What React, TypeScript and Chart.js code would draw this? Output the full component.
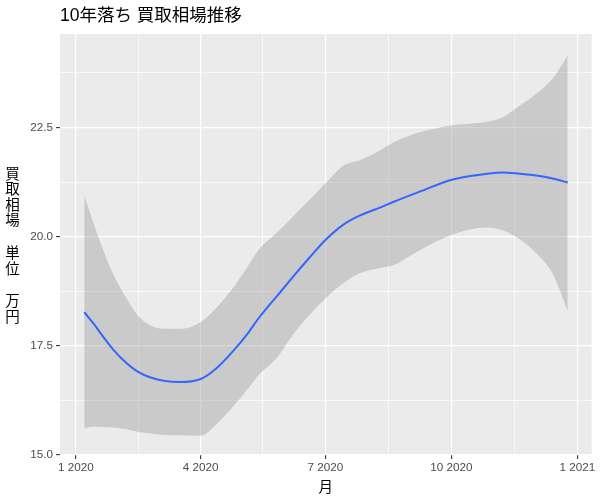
import React, { useEffect, useRef } from "react";
import { Chart, registerables } from "chart.js";

Chart.register(...registerables);

// Days since 1 Jan 2020
const DAYS = [6, 13, 20, 27, 37, 45, 54, 64, 76, 91, 103, 115, 125, 134, 147, 159, 171, 183, 195, 207, 220, 232, 251, 275, 300, 312, 324, 336, 348, 359];
const FIT = [18.27, 18.0, 17.7, 17.42, 17.1, 16.91, 16.78, 16.7, 16.67, 16.74, 17.0, 17.39, 17.77, 18.16, 18.65, 19.1, 19.54, 19.95, 20.27, 20.48, 20.64, 20.8, 21.03, 21.31, 21.44, 21.47, 21.44, 21.4, 21.33, 21.24];
const UPPER = [20.94, 20.29, 19.68, 19.15, 18.58, 18.2, 17.97, 17.89, 17.89, 18.04, 18.39, 18.84, 19.3, 19.72, 20.1, 20.48, 20.86, 21.25, 21.62, 21.75, 21.94, 22.16, 22.39, 22.55, 22.63, 22.74, 23.0, 23.27, 23.62, 24.15];
const LOWER = [15.61, 15.65, 15.64, 15.63, 15.59, 15.53, 15.49, 15.46, 15.45, 15.44, 15.72, 16.12, 16.5, 16.85, 17.24, 17.78, 18.23, 18.61, 18.93, 19.16, 19.27, 19.35, 19.69, 20.05, 20.21, 20.14, 19.94, 19.62, 19.15, 18.3];

const X_TICK_DAYS = [0, 91, 182, 274, 366];
const X_TICK_LABELS = ["1 2020", "4 2020", "7 2020", "10 2020", "1 2021"];
const X_MINOR = [45.5, 136.5, 228, 320];
const Y_TICKS = [15, 17.5, 20, 22.5];
const Y_MINOR = [16.25, 18.75, 21.25, 23.75];

const TITLE = "10年落ち 買取相場推移";
const X_TITLE = "月";
const Y_TITLE_LINES = ["買", "取", "相", "場", "", "単", "位", "", "万", "円"];

const FONT = "'Liberation Sans', 'Noto Sans CJK JP', sans-serif";

const panelPlugin = {
  id: "panel",
  beforeDraw(chart: any) {
    const { ctx, chartArea } = chart;
    ctx.save();
    ctx.fillStyle = "#FFFFFF";
    ctx.fillRect(0, 0, chart.width, chart.height);
    ctx.fillStyle = "#EBEBEB";
    ctx.fillRect(chartArea.left, chartArea.top, chartArea.right - chartArea.left, chartArea.bottom - chartArea.top);
    ctx.restore();
  },
  afterDraw(chart: any) {
    const { ctx, chartArea } = chart;
    ctx.save();
    ctx.fillStyle = "#000000";
    ctx.textBaseline = "middle";
    ctx.textAlign = "left";
    ctx.font = `17.5px ${FONT}`;
    ctx.fillText(TITLE, chartArea.left, 16);
    ctx.textAlign = "center";
    ctx.font = `14.5px ${FONT}`;
    ctx.fillText(X_TITLE, (chartArea.left + chartArea.right) / 2, 488);
    let y = 175;
    for (const ch of Y_TITLE_LINES) {
      if (ch) {
        ctx.fillText(ch, 12.5, y);
        y += 15.4;
      } else {
        y += 17.5;
      }
    }
    ctx.restore();
  },
};

export default function App() {
  const ref = useRef<HTMLCanvasElement>(null);
  useEffect(() => {
    if (!ref.current) return;
    const xMajor = (v: number) => X_TICK_DAYS.includes(v);
    const yMajor = (v: number) => Y_TICKS.includes(v);
    const chart = new Chart(ref.current, {
      type: "line",
      data: {
        datasets: [
          {
            label: "fit",
            data: DAYS.map((d, i) => ({ x: d, y: FIT[i] })),
            borderColor: "#3366FF",
            borderWidth: 2,
            pointRadius: 0,
            fill: false,
            cubicInterpolationMode: "monotone",
            order: 0,
          },
          {
            label: "upper",
            data: DAYS.map((d, i) => ({ x: d, y: UPPER[i] })),
            borderColor: "rgba(0,0,0,0)",
            borderWidth: 1,
            pointRadius: 0,
            backgroundColor: "rgba(153,153,153,0.4)",
            fill: 2,
            cubicInterpolationMode: "monotone",
            order: 1,
          },
          {
            label: "lower",
            data: DAYS.map((d, i) => ({ x: d, y: LOWER[i] })),
            borderColor: "rgba(0,0,0,0)",
            borderWidth: 1,
            pointRadius: 0,
            fill: false,
            cubicInterpolationMode: "monotone",
            order: 2,
          },
        ],
      },
      options: {
        responsive: false,
        animation: false,
        devicePixelRatio: 1,
        layout: { padding: { left: 0, top: 34, right: 8.3, bottom: 0 } },
        plugins: {
          legend: { display: false },
          tooltip: { enabled: false },
          title: { display: false },
        },
        scales: {
          x: {
            type: "linear",
            min: -11.68,
            max: 376.5,
            afterBuildTicks: (scale: any) => {
              scale.ticks = [...X_TICK_DAYS, ...X_MINOR].sort((a, b) => a - b).map((v) => ({ value: v }));
            },
            afterFit: (scale: any) => {
              scale.height = 45;
            },
            border: { display: false },
            grid: {
              color: "#FFFFFF",
              lineWidth: (c: any) => (xMajor(c.tick?.value) ? 1.2 : 0.7),
              tickColor: (c: any) => (xMajor(c.tick?.value) ? "#333333" : "rgba(0,0,0,0)"),
              tickLength: 4,
              tickWidth: 1.1,
            },
            ticks: {
              autoSkip: false,
              maxRotation: 0,
              minRotation: 0,
              padding: 2,
              color: "#4D4D4D",
              font: { family: FONT, size: 11.7 },
              callback: (v: any) => {
                const i = X_TICK_DAYS.indexOf(v);
                return i >= 0 ? X_TICK_LABELS[i] : "";
              },
            },
          },
          y: {
            type: "linear",
            min: 15,
            max: 24.64,
            afterBuildTicks: (scale: any) => {
              scale.ticks = [...Y_TICKS, ...Y_MINOR].sort((a, b) => a - b).map((v) => ({ value: v }));
            },
            afterFit: (scale: any) => {
              scale.width = 60;
            },
            border: { display: false },
            grid: {
              color: "#FFFFFF",
              lineWidth: (c: any) => (yMajor(c.tick?.value) ? 1.2 : 0.7),
              tickColor: (c: any) => (yMajor(c.tick?.value) ? "#333333" : "rgba(0,0,0,0)"),
              tickLength: 4,
              tickWidth: 1.1,
            },
            ticks: {
              autoSkip: false,
              padding: 3,
              color: "#4D4D4D",
              font: { family: FONT, size: 11.7 },
              callback: (v: any) => (Y_TICKS.includes(v) ? Number(v).toFixed(1) : ""),
            },
          },
        },
      },
      plugins: [panelPlugin],
    } as any);
    return () => chart.destroy();
  }, []);
  return (
    <div style={{ position: "fixed", left: 0, top: 0, width: 600, height: 500 }}>
      <canvas ref={ref} width={600} height={500} style={{ display: "block" }} />
    </div>
  );
}
